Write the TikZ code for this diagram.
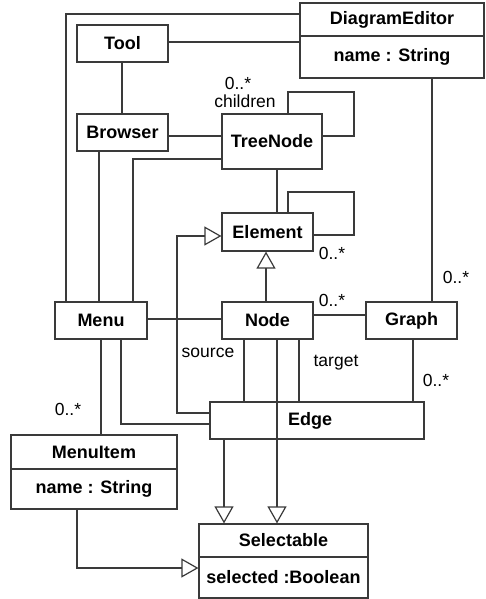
\documentclass[tikz,border=0pt]{standalone}
\usepackage{fontspec}
\setmainfont{Liberation Sans}
\usetikzlibrary{arrows.meta,shadows}
\definecolor{lc}{HTML}{3A3A3A}
\begin{document}
\begin{tikzpicture}[x=1pt,y=-1pt,
  cls/.style={draw=lc, line width=1.2pt, fill=white, inner sep=0pt,
    font=\bfseries\fontsize{18}{20}\selectfont,
    drop shadow={shadow xshift=1pt, shadow yshift=-1pt, opacity=.25}},
  ln/.style={draw=lc, line width=1.2pt},
  gen/.style={ln, -{Triangle[open, length=17pt, width=19pt]}},
  lbl/.style={inner sep=0pt, font=\fontsize{17.5}{19}\selectfont}]
\useasboundingbox (0,0) rectangle (485,599);
% classes
\node[cls, minimum width=184pt, minimum height=33pt] (de1) at (392,19.5) {DiagramEditor};
\node[cls, minimum width=184pt, minimum height=42pt] (de2) at (392,57) {name : String};
\node[cls, minimum width=91pt, minimum height=37pt] (tool) at (122.5,43.5) {Tool};
\node[cls, minimum width=91pt, minimum height=37pt] (browser) at (122.5,132.5) {Browser};
\node[cls, minimum width=100pt, minimum height=55pt] (treenode) at (272,141.5) {TreeNode};
\node[cls, minimum width=91pt, minimum height=38pt] (element) at (267.5,232) {Element};
\node[cls, minimum width=92pt, minimum height=37pt] (menu) at (101,320.5) {Menu};
\node[cls, minimum width=91pt, minimum height=37pt] (node) at (267.5,320.5) {Node};
\node[cls, minimum width=91pt, minimum height=37pt] (graph) at (411.5,320.5) {Graph};
\node[cls, minimum width=214pt, minimum height=37pt] (edge) at (317,420.5) {\hspace*{-14pt}Edge};
\node[cls, minimum width=166pt, minimum height=34pt] (mi1) at (94,452) {MenuItem};
\node[cls, minimum width=166pt, minimum height=40pt] (mi2) at (94,489) {name : String};
\node[cls, minimum width=169pt, minimum height=33pt] (sel1) at (283.5,540.5) {Selectable};
\node[cls, minimum width=169pt, minimum height=41pt] (sel2) at (283.5,577.5) {selected :Boolean};
% connectors
\draw[ln] (de1.west |- 0,14) -- (66,14) -- (menu.north -| 66,0);
\draw[ln] (tool.east |- 0,42) -- (de2.west |- 0,42);
\draw[ln] (tool.south -| 122,0) -- (browser.north -| 122,0);
\draw[ln] (browser.east |- 0,136) -- (treenode.west |- 0,136);
\draw[ln] (browser.south -| 99,0) -- (menu.north -| 99,0);
\draw[ln] (treenode.west |- 0,159) -- (133,159) -- (menu.north -| 133,0);
\draw[ln] (treenode.north -| 288,0) -- (288,92) -- (354,92) -- (354,136) -- (treenode.east |- 0,136);
\draw[ln] (treenode.south -| 277,0) -- (element.north -| 277,0);
\draw[ln] (element.north -| 288,0) -- (288,192) -- (354,192) -- (354,235) -- (element.east |- 0,235);
\draw[gen] (node.north -| 266,0) -- (element.south -| 266,0);
\draw[gen] (edge.west |- 0,413) -- (177,413) -- (177,236) -- (element.west |- 0,236);
\draw[ln] (menu.east |- 0,319) -- (node.west |- 0,319);
\draw[ln] (node.east |- 0,315) -- (graph.west |- 0,315);
\draw[ln] (de2.south -| 432,0) -- (graph.north -| 432,0);
\draw[ln] (node.south -| 244,0) -- (edge.north -| 244,0);
\draw[ln] (node.south -| 299,0) -- (edge.north -| 299,0);
\draw[gen] (node.south -| 277,0) -- (sel1.north -| 277,0);
\draw[ln] (graph.south -| 413,0) -- (edge.north -| 413,0);
\draw[ln] (menu.south -| 101,0) -- (mi1.north -| 101,0);
\draw[ln] (menu.south -| 121,0) -- (121,424) -- (edge.west |- 0,424);
\draw[gen] (edge.south -| 224,0) -- (sel1.north -| 224,0);
\draw[gen] (mi2.south -| 77,0) -- (77,568) -- (sel2.west |- 0,568);
% labels
\node[lbl] (m1) at (238,83.5) {0..*};
\node[lbl] (ch) at (245,101) {children};
\node[lbl] (m2) at (332,253) {0..*};
\node[lbl] (m3) at (456,277) {0..*};
\node[lbl] (m4) at (332,300) {0..*};
\node[lbl] (src) at (208,353) {source};
\node[lbl] (tgt) at (336,363) {target};
\node[lbl] (m5) at (436,380) {0..*};
\node[lbl] (m6) at (68,409) {0..*};
\end{tikzpicture}
\end{document}
